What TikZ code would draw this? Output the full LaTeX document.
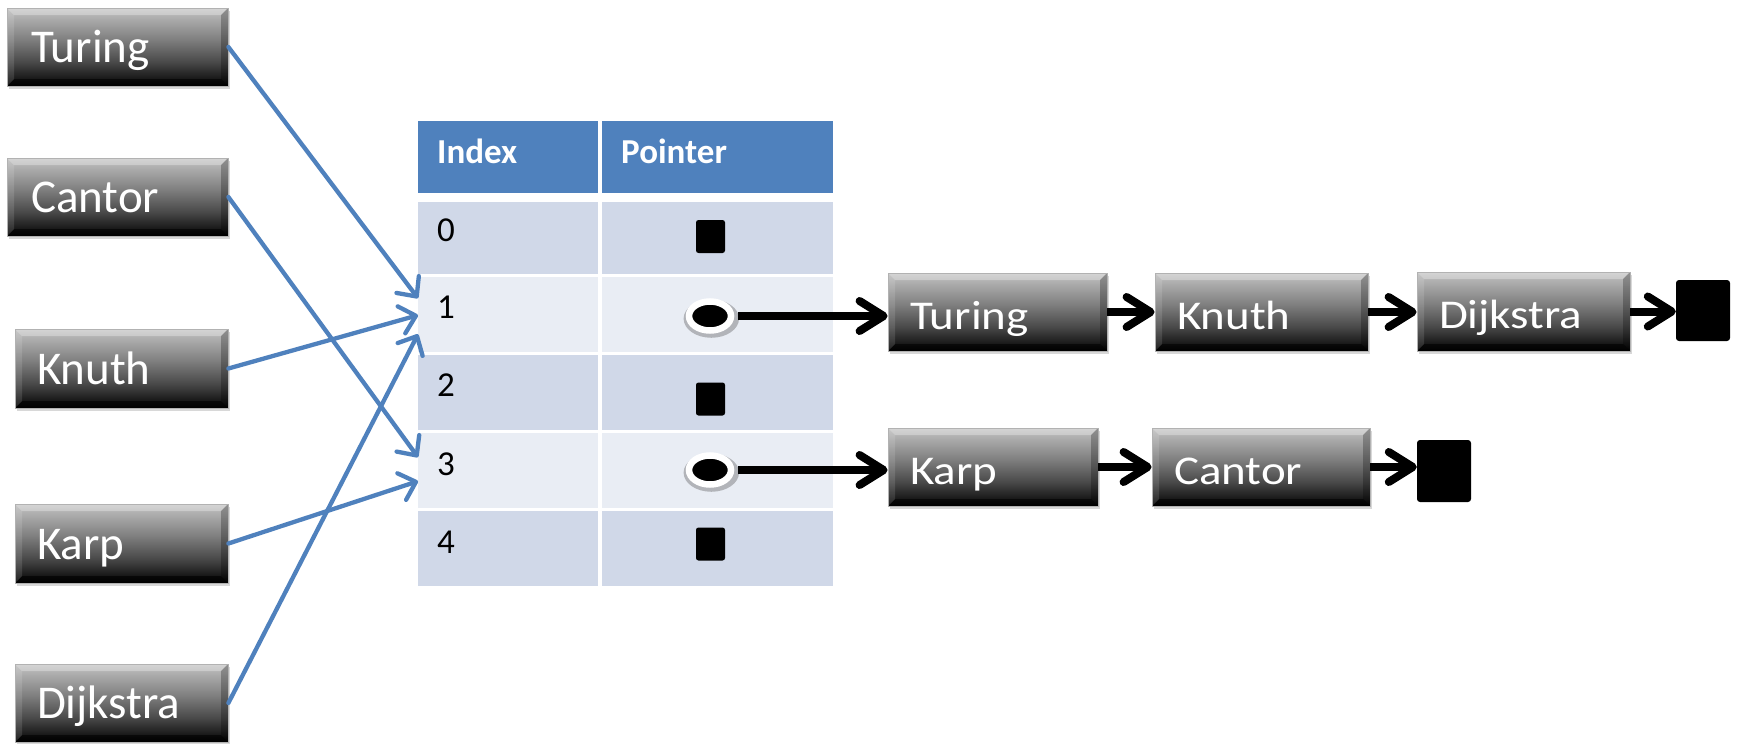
\documentclass[tikz,border=0pt]{standalone}
\usepackage{fontspec}
\setmainfont{Carlito}
\usetikzlibrary{arrows.meta,calc,shadows,shapes.geometric}
\definecolor{hdrblue}{RGB}{79,129,189}
\definecolor{rowdark}{RGB}{208,216,232}
\definecolor{rowlight}{RGB}{233,237,244}
\pgfdeclareverticalshading{bevelshade}{100bp}{color(0bp)=(black); color(25bp)=(black); color(29bp)=(black!92); color(40bp)=(black!72); color(55bp)=(black!50); color(75bp)=(black!24); color(100bp)=(black!24)}
\tikzset{
  bevbox/.style={rectangle, inner sep=0pt, shade, shading=bevelshade, draw=black!30, line width=0.8pt,
     drop shadow={shadow xshift=2pt, shadow yshift=-3pt, opacity=0.3},
     text=white, align=left, text depth=0pt,
     font=\fontsize{47}{50}\selectfont,
     path picture={
       \fill[white,opacity=0.3] (path picture bounding box.north west) -- (path picture bounding box.north east) -- ([xshift=-7pt,yshift=-7pt]path picture bounding box.north east) -- ([xshift=7pt,yshift=-7pt]path picture bounding box.north west) -- cycle;
       \fill[black,opacity=0.6] (path picture bounding box.south west) -- (path picture bounding box.south east) -- ([xshift=-7pt,yshift=7pt]path picture bounding box.south east) -- ([xshift=7pt,yshift=7pt]path picture bounding box.south west) -- cycle;
       \fill[white,opacity=0.12] (path picture bounding box.north west) -- ([xshift=7pt,yshift=-7pt]path picture bounding box.north west) -- ([xshift=7pt,yshift=7pt]path picture bounding box.south west) -- (path picture bounding box.south west) -- cycle;
       \fill[black,opacity=0.25] (path picture bounding box.north east) -- ([xshift=-7pt,yshift=-7pt]path picture bounding box.north east) -- ([xshift=-7pt,yshift=7pt]path picture bounding box.south east) -- (path picture bounding box.south east) -- cycle;
     }},
  leftbox/.style={bevbox, text height=31pt},
  listbox/.style={bevbox, text height=34pt},
  cell/.style={rectangle, inner sep=0pt, anchor=north west},
  hdrtxt/.style={font=\fontsize{35}{40}\selectfont\bfseries, text=white, anchor=base west, inner sep=0pt},
  idxtxt/.style={font=\fontsize{35}{40}\selectfont, text=black, anchor=base west, inner sep=0pt},
  tnull/.style={rectangle, fill=black, rounded corners=2.5pt, minimum width=29pt, minimum height=33pt, inner sep=0pt},
  lnull/.style={rectangle, fill=black, rounded corners=3pt, inner sep=0pt},
  ptrdot/.style={ellipse, fill=black, draw=white, line width=6.5pt, minimum width=42pt, minimum height=29pt, inner sep=0pt,
     drop shadow={shadow xshift=1pt, shadow yshift=-2pt, shadow scale=1.32, opacity=0.35, fill=black!70}},
  barrow/.style={draw=hdrblue, line width=4.3pt, line cap=round, -{Straight Barb[length=15pt,width=28pt,round]}},
  karrow/.style={draw=black, line width=8pt, -{Straight Barb[length=24pt,width=30pt,round]}},
}
\begin{document}
\begin{tikzpicture}[x=1pt,y=-1pt]
\useasboundingbox[fill=white] (0,0) rectangle (1740,744);

% left boxes
\node[leftbox, minimum width=221pt, minimum height=78pt, text width=173pt, inner xsep=24pt] (b1) at (117.5,47) {Turing};
\node[leftbox, minimum width=221pt, minimum height=78pt, text width=173pt, inner xsep=24pt] (b2) at (117.5,197) {Cantor};
\node[leftbox, minimum width=213pt, minimum height=79pt, text width=169pt, inner xsep=22pt] (b3) at (121.5,368.5) {Knuth};
\node[leftbox, minimum width=213pt, minimum height=79pt, text width=169pt, inner xsep=22pt] (b4) at (121.5,543.5) {Karp};
\node[leftbox, minimum width=213pt, minimum height=78pt, text width=169pt, inner xsep=22pt] (b5) at (121.5,703) {Dijkstra};

% table
\node[cell, fill=hdrblue, minimum width=180pt, minimum height=72pt] (h1) at (418,121) {};
\node[cell, fill=hdrblue, minimum width=231pt, minimum height=72pt] (h2) at (602,121) {};
\node[cell, fill=rowdark, minimum width=180pt, minimum height=72pt] (c0a) at (418,202) {};
\node[cell, fill=rowdark, minimum width=231pt, minimum height=72pt] (c0b) at (602,202) {};
\node[cell, fill=rowlight, minimum width=180pt, minimum height=75pt] (c1a) at (418,277) {};
\node[cell, fill=rowlight, minimum width=231pt, minimum height=75pt] (c1b) at (602,277) {};
\node[cell, fill=rowdark, minimum width=180pt, minimum height=75pt] (c2a) at (418,355) {};
\node[cell, fill=rowdark, minimum width=231pt, minimum height=75pt] (c2b) at (602,355) {};
\node[cell, fill=rowlight, minimum width=180pt, minimum height=75pt] (c3a) at (418,433) {};
\node[cell, fill=rowlight, minimum width=231pt, minimum height=75pt] (c3b) at (602,433) {};
\node[cell, fill=rowdark, minimum width=180pt, minimum height=75pt] (c4a) at (418,511) {};
\node[cell, fill=rowdark, minimum width=231pt, minimum height=75pt] (c4b) at (602,511) {};

\node[hdrtxt] (tIndex) at (437,163) {Index};
\node[hdrtxt] (tPointer) at (621,163) {Pointer};
\node[idxtxt] (t0) at (437,241) {0};
\node[idxtxt] (t1) at (437,318) {1};
\node[idxtxt] (t2) at (437,396) {2};
\node[idxtxt] (t3) at (437,475) {3};
\node[idxtxt] (t4) at (437,553) {4};

\node[tnull] (n0) at (710.5,236.5) {};
\node[tnull] (n2) at (710.5,399) {};
\node[tnull] (n4) at (710.5,544) {};

% list boxes
\node[listbox, minimum width=219pt, minimum height=78pt, text width=175pt, inner xsep=22pt] (L1) at (997.5,312) {\scalebox{1}[0.87]{Turing}};
\node[listbox, minimum width=213pt, minimum height=78pt, text width=169pt, inner xsep=22pt] (L2) at (1261.5,312) {\scalebox{1}[0.87]{Knuth}};
\node[listbox, minimum width=213pt, minimum height=79pt, text width=169pt, inner xsep=22pt] (L3) at (1523.5,311.5) {\scalebox{1}[0.87]{Dijkstra}};
\node[lnull, minimum width=54pt, minimum height=61pt] (N1) at (1703,310.5) {};

\node[listbox, minimum width=210pt, minimum height=78pt, text width=166pt, inner xsep=22pt] (M1) at (993,467) {\scalebox{1}[0.87]{Karp}};
\node[listbox, minimum width=218pt, minimum height=78pt, text width=174pt, inner xsep=22pt] (M2) at (1261,467) {\scalebox{1}[0.87]{Cantor}};
\node[lnull, minimum width=54pt, minimum height=62pt] (N2) at (1444,471) {};

% pointer dots
\node[ptrdot] (e1) at (710,316) {};
\node[ptrdot] (e3) at (710,470) {};

% black arrows
\draw[karrow] ([xshift=3.5pt]e1.east) -- (e1.east -| L1.west);
\draw[karrow] (L1.east) -- (L2.west);
\draw[karrow] (L2.east) -- (L2.east -| L3.west);
\draw[karrow] (L3.east) -- (L3.east -| N1.west);
\draw[karrow] ([xshift=3.5pt]e3.east) -- (e3.east -| M1.west);
\draw[karrow] (M1.east) -- (M1.east -| M2.west);
\draw[karrow] (M2.east) -- (M2.east -| N2.west);

% blue arrows
\draw[barrow] (b1.east) -- ($(c1a.west)+(0,-16.5)$);
\draw[barrow] (b2.east) -- ($(c3a.west)+(0,-13.5)$);
\draw[barrow] (b3.east) -- ($(c1a.west)+(0,0.5)$);
\draw[barrow] (b4.east) -- ($(c3a.west)+(0,10.5)$);
\draw[barrow] (b5.east) -- ($(c1a.west)+(0,19.5)$);
\end{tikzpicture}
\end{document}
